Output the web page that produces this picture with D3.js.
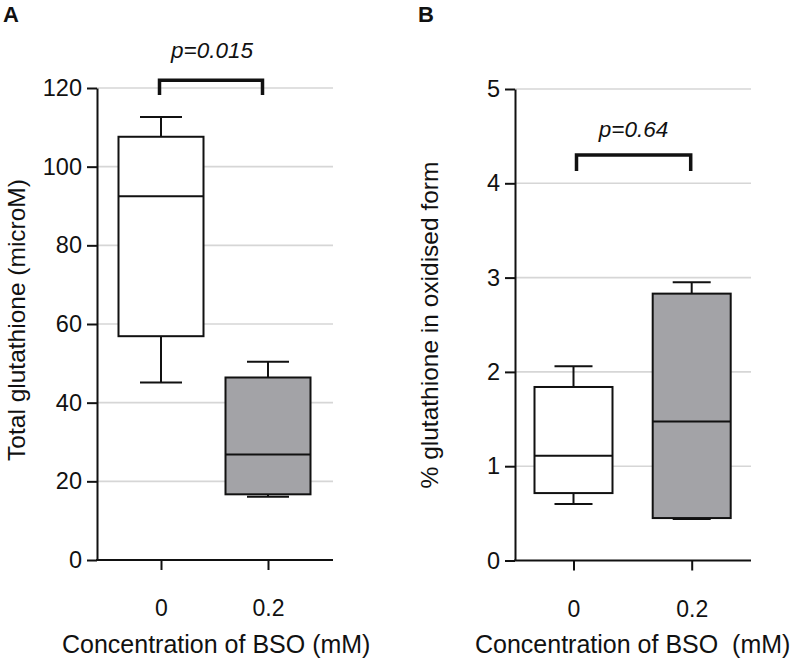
<!DOCTYPE html>
<html>
<head>
<meta charset="utf-8">
<script src="https://cdn.jsdelivr.net/npm/d3@7"></script>
<style>
  body { margin: 0; background: #fff; }
  svg { display: block; font-family: "Liberation Sans", Arial, sans-serif; }
</style>
</head>
<body>
<svg id="chart" width="794" height="663"></svg>
<script>
// ---- data ----
const categories = ["0", "0.2"];
// Panel A: Total glutathione (microM)
const totalMin    = [45.1, 16.1];
const totalQ1     = [56.9, 16.7];
const totalMedian = [92.5, 26.8];
const totalQ3     = [107.6, 46.4];
const totalMax    = [112.6, 50.4];
const totalTicks  = [0, 20, 40, 60, 80, 100, 120];
// Panel B: % glutathione in oxidised form
const oxMin    = [0.60, 0.44];
const oxQ1     = [0.715, 0.45];
const oxMedian = [1.11, 1.474];
const oxQ3     = [1.84, 2.83];
const oxMax    = [2.06, 2.95];
const oxTicks  = [0, 1, 2, 3, 4, 5];
const fills = ["#ffffff", "#a3a3a7"];

const svg = d3.select("#chart");

function panel(cfg) {
  const g = svg.append("g");
  const y = d3.scaleLinear().domain(cfg.domain).range([cfg.y0, cfg.y1]);
  const x = d3.scalePoint().domain(categories).range(cfg.centers);

  // gridlines
  g.selectAll("line.grid").data(cfg.ticks.filter(t => t > 0)).join("line")
    .attr("x1", cfg.axisX).attr("x2", cfg.axisEnd)
    .attr("y1", d => y(d)).attr("y2", d => y(d))
    .attr("stroke", "#d6d6d6").attr("stroke-width", 1.6);

  // y axis
  const ya = g.append("g").attr("transform", `translate(${cfg.axisX},0)`)
    .call(d3.axisLeft(y).tickValues(cfg.ticks).tickSize(10).tickSizeOuter(0).tickPadding(5).tickFormat(d3.format("")));
  ya.select(".domain").attr("stroke", "#111").attr("stroke-width", 2);
  ya.selectAll(".tick line").attr("stroke", "#111").attr("stroke-width", 2);
  ya.selectAll(".tick text").attr("font-size", 23.5).attr("fill", "#111").attr("font-family", "Liberation Sans, Arial, sans-serif");

  // x axis
  const xa = g.append("g").attr("transform", `translate(0,${cfg.y0})`)
    .call(d3.axisBottom(x).tickSize(10).tickSizeOuter(0).tickPadding(30));
  xa.select(".domain").remove();
  xa.selectAll(".tick line").attr("stroke", "#111").attr("stroke-width", 2);
  xa.selectAll(".tick text").attr("font-size", 23).attr("fill", "#111").attr("font-family", "Liberation Sans, Arial, sans-serif");
  g.append("line").attr("x1", cfg.axisX - 1).attr("x2", cfg.axisEnd)
    .attr("y1", cfg.y0).attr("y2", cfg.y0).attr("stroke", "#111").attr("stroke-width", 2);

  // boxes
  const d = categories.map((c, i) => ({c, i, min: cfg.min[i], q1: cfg.q1[i], med: cfg.med[i], q3: cfg.q3[i], max: cfg.max[i]}));
  const bw = cfg.boxW, cw = cfg.capW;
  const bx = g.selectAll("g.box").data(d).join("g");
  // whiskers
  bx.append("line").attr("x1", b => x(b.c)).attr("x2", b => x(b.c))
    .attr("y1", b => y(b.q3)).attr("y2", b => y(b.max)).attr("stroke", "#111").attr("stroke-width", 2);
  bx.append("line").attr("x1", b => x(b.c)).attr("x2", b => x(b.c))
    .attr("y1", b => y(b.q1)).attr("y2", b => y(b.min)).attr("stroke", "#111").attr("stroke-width", 2);
  bx.append("line").attr("x1", b => x(b.c) - cw / 2).attr("x2", b => x(b.c) + cw / 2)
    .attr("y1", b => y(b.max)).attr("y2", b => y(b.max)).attr("stroke", "#111").attr("stroke-width", 2);
  bx.append("line").attr("x1", b => x(b.c) - cw / 2).attr("x2", b => x(b.c) + cw / 2)
    .attr("y1", b => y(b.min)).attr("y2", b => y(b.min)).attr("stroke", "#111").attr("stroke-width", 2);
  // box
  bx.append("rect").attr("x", b => x(b.c) - bw / 2).attr("width", bw)
    .attr("y", b => y(b.q3)).attr("height", b => y(b.q1) - y(b.q3))
    .attr("fill", b => fills[b.i]).attr("stroke", "#111").attr("stroke-width", 2);
  bx.append("line").attr("x1", b => x(b.c) - bw / 2).attr("x2", b => x(b.c) + bw / 2)
    .attr("y1", b => y(b.med)).attr("y2", b => y(b.med)).attr("stroke", "#111").attr("stroke-width", 2);

  // significance bracket
  const bl = x(categories[0]) + cfg.brL, br = x(categories[1]) + cfg.brR;
  g.append("path")
    .attr("d", `M${bl},${y(cfg.brBot)}V${y(cfg.brTop)}H${br}V${y(cfg.brBot)}`)
    .attr("fill", "none").attr("stroke", "#111").attr("stroke-width", 3.5);
  g.append("text").attr("x", (bl + br) / 2 + cfg.pDx).attr("y", y(cfg.pY))
    .attr("text-anchor", "middle").attr("font-size", 22.5).attr("font-style", "italic")
    .attr("fill", "#111").text(cfg.pText);

  // axis titles
  g.append("text").attr("transform", `translate(${cfg.yTitleX},${cfg.yTitleY}) rotate(-90)`)
    .attr("text-anchor", "middle").attr("font-size", 24.5).attr("fill", "#111").text(cfg.yTitle);
  g.append("text").attr("x", cfg.xTitleX).attr("y", 653)
    .attr("text-anchor", "start").attr("font-size", 25).attr("fill", "#111")
    .attr("xml:space", "preserve").style("white-space", "pre").text(cfg.xTitle);

  // panel letter
  g.append("text").attr("x", cfg.letterX).attr("y", 22).attr("font-size", 22)
    .attr("font-weight", "bold").attr("fill", "#111").text(cfg.letter);
}

panel({
  domain: [0, 120], y0: 560, y1: 88, centers: [161, 268], axisX: 97, axisEnd: 333,
  ticks: totalTicks, min: totalMin, q1: totalQ1, med: totalMedian, q3: totalQ3, max: totalMax,
  boxW: 85, capW: 42, brL: -1.5, brR: -5.5, brTop: 122.0, brBot: 118.2,
  pText: "p=0.015", pY: 127.6, pDx: 1,
  yTitle: "Total glutathione (microM)", yTitleX: 25, yTitleY: 320,
  xTitle: "Concentration of BSO (mM)", xTitleX: 62, letter: "A", letterX: 3
});

panel({
  domain: [0, 5], y0: 560.5, y1: 89, centers: [573.5, 691.7], axisX: 515, axisEnd: 751,
  ticks: oxTicks, min: oxMin, q1: oxQ1, med: oxMedian, q3: oxQ3, max: oxMax,
  boxW: 78, capW: 38, brL: 3, brR: -1, brTop: 4.30, brBot: 4.13,
  pText: "p=0.64", pY: 4.49, pDx: 0,
  yTitle: "% glutathione in oxidised form", yTitleX: 438, yTitleY: 325,
  xTitle: "Concentration of BSO  (mM)", xTitleX: 475, letter: "B", letterX: 418
});
</script>
</body>
</html>
